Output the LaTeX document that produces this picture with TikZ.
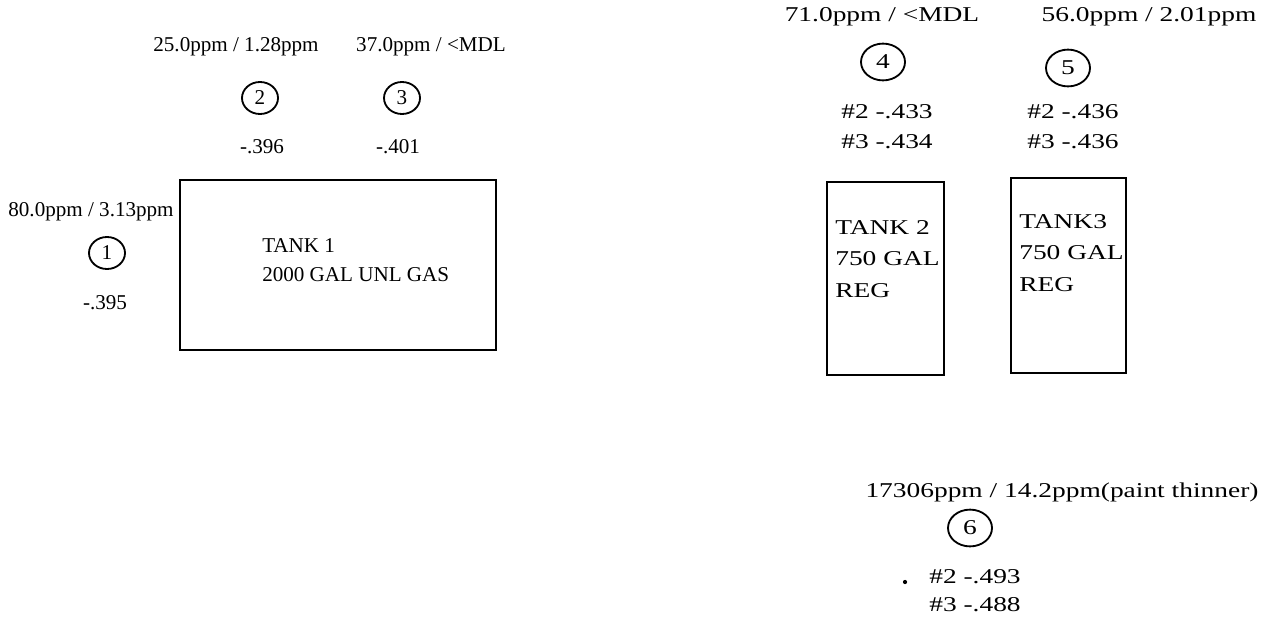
\documentclass[tikz,border=0pt]{standalone}
\usepackage{fontspec}
\setmainfont{Liberation Serif}
\newfontfamily\widefont[FakeStretch=1.3]{Liberation Serif}
\usetikzlibrary{shapes.geometric}
\begin{document}
\begin{tikzpicture}[
    x=0.025cm, y=-0.025cm,
    reading/.style={font=\fontsize{15}{21}\selectfont, inner sep=0pt},
    widereading/.style={font=\widefont\fontsize{15}{22.5}\selectfont, inner sep=0pt},
    spot/.style={draw, ellipse, line width=1.3pt, minimum width=0.9cm, minimum height=0.8cm, inner sep=0pt, font=\fontsize{15}{18}\selectfont},
    widespot/.style={spot, minimum width=1.1cm, minimum height=0.92cm, font=\widefont\fontsize{15}{18}\selectfont},
    tank/.style={draw, line width=1.5pt, inner sep=0pt},
]
\useasboundingbox (0,0) rectangle (1261,618);

% Sample point 1
\node[reading] (ppm1) at (91, 212) {80.0ppm / 3.13ppm};
\node[spot] (s1) at (107, 253) {1};
\node[reading] (val1) at (105, 303) {-.395};

% Sample point 2
\node[reading] (ppm2) at (236, 47) {25.0ppm / 1.28ppm};
\node[spot] (s2) at (260, 98) {2};
\node[reading] (val2) at (262, 147) {-.396};

% Sample point 3
\node[reading] (ppm3) at (431, 47) {37.0ppm / <MDL};
\node[spot] (s3) at (402, 98) {3};
\node[reading] (val3) at (398, 147) {-.401};

% Tank 1
\node[tank, minimum width=7.9cm, minimum height=4.25cm] (tank1) at (338, 265) {};
\node[reading, anchor=west, align=left] (tank1txt) at (262, 260) {TANK 1\\2000 GAL UNL GAS};

% Sample point 4
\node[widereading] (ppm4) at (882, 17) {71.0ppm / <MDL};
\node[widespot] (s4) at (883, 62) {4};
\node[widereading] (val4a) at (887, 112) {\#2 -.433};
\node[widereading] (val4b) at (887, 142) {\#3 -.434};

% Sample point 5
\node[widereading] (ppm5) at (1149, 17) {56.0ppm / 2.01ppm};
\node[widespot] (s5) at (1068, 68) {5};
\node[widereading] (val5a) at (1073, 112) {\#2 -.436};
\node[widereading] (val5b) at (1073, 142) {\#3 -.436};

% Tank 2
\node[tank, minimum width=2.925cm, minimum height=4.825cm] (tank2) at (885.5, 278.5) {};
\node[widereading, anchor=west, align=left] (tank2txt) at (835, 259) {TANK 2\\750 GAL\\REG};

% Tank 3
\node[tank, minimum width=2.875cm, minimum height=4.875cm] (tank3) at (1068.5, 275.5) {};
\node[widereading, anchor=west, align=left] (tank3txt) at (1019, 253) {TANK3\\750 GAL\\REG};

% Sample point 6
\node[widereading] (ppm6) at (1062, 492) {17306ppm / 14.2ppm(paint thinner)};
\node[widespot] (s6) at (970, 528) {6};
\node[circle, fill, inner sep=0pt, minimum size=3pt] (dot6) at (905, 582) {};
\node[widereading] (val6a) at (975, 577) {\#2 -.493};
\node[widereading] (val6b) at (975, 605) {\#3 -.488};

\end{tikzpicture}
\end{document}
